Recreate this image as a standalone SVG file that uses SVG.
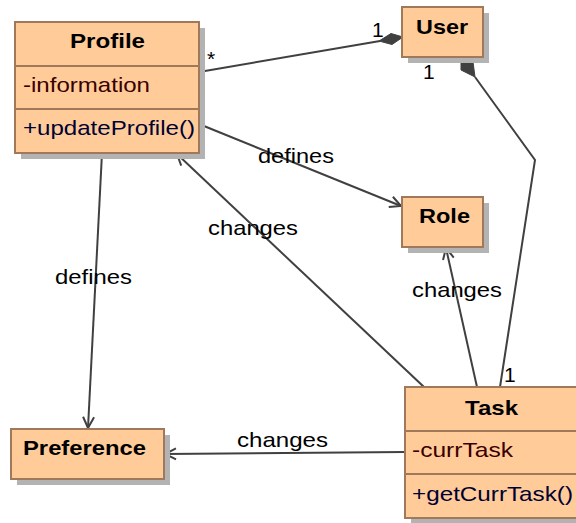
<svg xmlns="http://www.w3.org/2000/svg" width="576" height="523" viewBox="0 0 576 523">
<style>
.shadow{fill:#b3b3b3}
.box{fill:#ffcc99;stroke:#a0785a;stroke-width:2}
.sep{stroke:#a0785a;stroke-width:2}
.t{font-family:"Liberation Sans",Arial,sans-serif;font-size:21px;fill:#000}
.b{font-weight:bold}
.attr{fill:#3a0000}
.op{fill:#000033}
.edge{fill:none;stroke:#404040;stroke-width:2}
.dia{fill:#404040;stroke:#404040;stroke-width:1}
</style>
<defs>
<marker id="arr" markerWidth="16" markerHeight="16" refX="13" refY="7" orient="auto" markerUnits="userSpaceOnUse">
<path d="M2,1.5 L13,7 L2,12.5" fill="none" stroke="#404040" stroke-width="2"/>
</marker>
</defs>
<g id="connectors">
<polyline class="edge" points="199,72 380,41"/>
<polygon class="dia" points="403,37 391,33.5 379,41 392,44.5"/>
<text class="t" x="207" y="66">*</text>
<text class="t" x="372" y="37">1</text>
<polyline class="edge" points="500,387 535,160 475,77"/>
<polygon class="dia" points="461,57 473,62 475,77 461,70"/>
<text class="t" x="423" y="79">1</text>
<text class="t" x="504" y="382">1</text>
<line class="edge" x1="199" y1="124" x2="401" y2="206" marker-end="url(#arr)"/>
<text class="t" x="258" y="163" textLength="76" lengthAdjust="spacingAndGlyphs">defines</text>
<line class="edge" x1="424" y1="387" x2="177" y2="154" marker-end="url(#arr)"/>
<text class="t" x="208" y="235" textLength="90" lengthAdjust="spacingAndGlyphs">changes</text>
<line class="edge" x1="477" y1="387" x2="446" y2="248" marker-end="url(#arr)"/>
<text class="t" x="412" y="297" textLength="90" lengthAdjust="spacingAndGlyphs">changes</text>
<line class="edge" x1="102" y1="153" x2="88" y2="428" marker-end="url(#arr)"/>
<text class="t" x="55" y="284" textLength="77" lengthAdjust="spacingAndGlyphs">defines</text>
<line class="edge" x1="405" y1="452" x2="165" y2="454" marker-end="url(#arr)"/>
<text class="t" x="237" y="447" textLength="91" lengthAdjust="spacingAndGlyphs">changes</text>
</g>
<g id="Profile">
<rect class="shadow" x="21" y="28" width="184" height="131"/>
<rect class="box" x="15" y="22" width="184" height="131"/>
<line class="sep" x1="15" y1="66" x2="199" y2="66"/>
<line class="sep" x1="15" y1="109" x2="199" y2="109"/>
<text class="t b" x="70" y="48" textLength="75" lengthAdjust="spacingAndGlyphs">Profile</text>
<text class="t attr" x="23" y="92" textLength="127" lengthAdjust="spacingAndGlyphs">-information</text>
<text class="t op" x="23" y="135" textLength="172" lengthAdjust="spacingAndGlyphs">+updateProfile()</text>
</g>
<g id="User">
<rect class="shadow" x="408" y="13" width="81" height="50"/>
<rect class="box" x="402" y="7" width="81" height="50"/>
<text class="t b" x="416" y="34" textLength="52" lengthAdjust="spacingAndGlyphs">User</text>
</g>
<g id="Role">
<rect class="shadow" x="408" y="203" width="81" height="50"/>
<rect class="box" x="402" y="197" width="81" height="50"/>
<text class="t b" x="419" y="223" textLength="51" lengthAdjust="spacingAndGlyphs">Role</text>
</g>
<g id="Task">
<rect class="shadow" x="411" y="393" width="176" height="131"/>
<rect class="box" x="405" y="387" width="176" height="131"/>
<line class="sep" x1="405" y1="431" x2="581" y2="431"/>
<line class="sep" x1="405" y1="474" x2="581" y2="474"/>
<text class="t b" x="465" y="415" textLength="53" lengthAdjust="spacingAndGlyphs">Task</text>
<text class="t attr" x="412" y="457" textLength="101" lengthAdjust="spacingAndGlyphs">-currTask</text>
<text class="t op" x="412" y="501" textLength="161" lengthAdjust="spacingAndGlyphs">+getCurrTask()</text>
</g>
<g id="Preference">
<rect class="shadow" x="17" y="435" width="153" height="50"/>
<rect class="box" x="11" y="429" width="153" height="50"/>
<text class="t b" x="23" y="455" textLength="123" lengthAdjust="spacingAndGlyphs">Preference</text>
</g>
</svg>
